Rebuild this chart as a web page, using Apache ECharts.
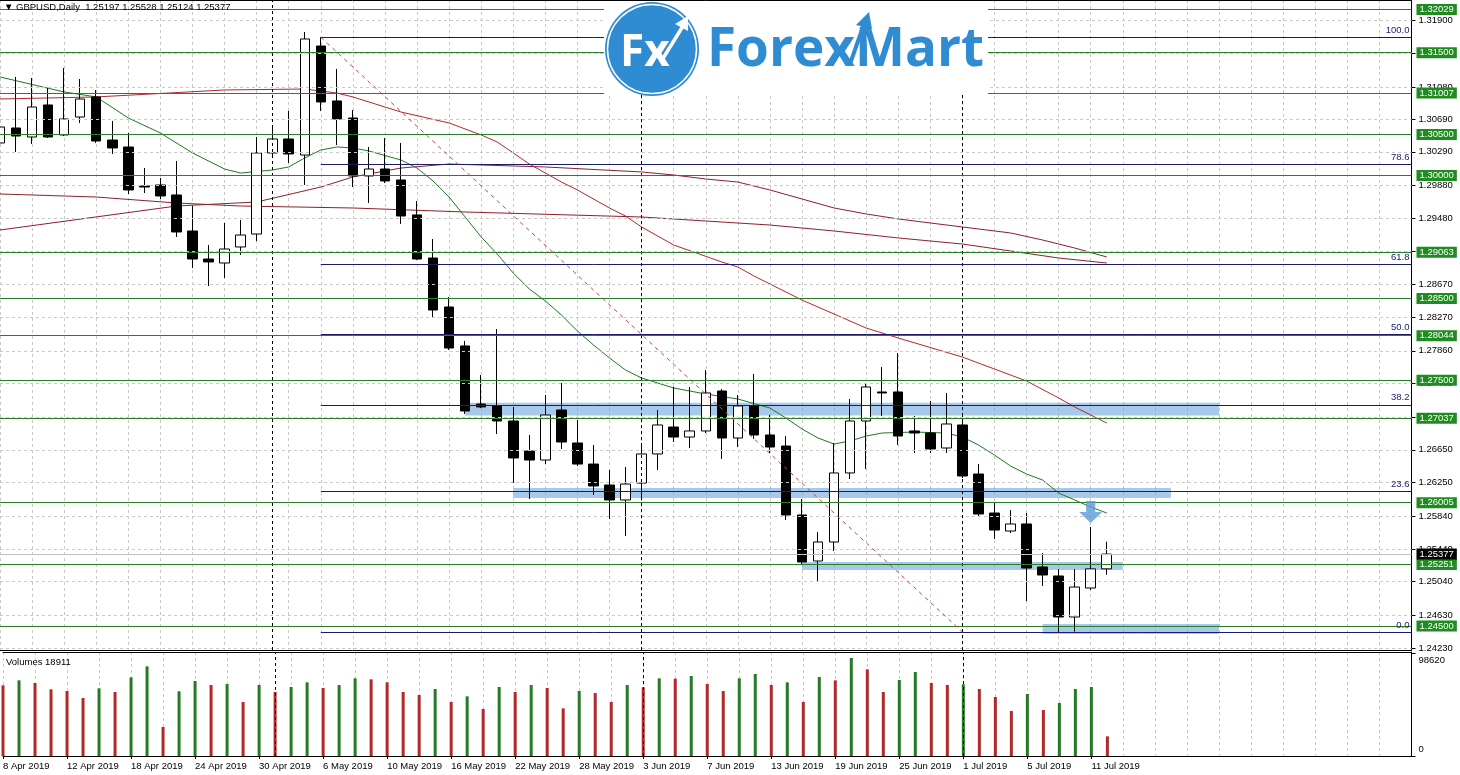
<!DOCTYPE html>
<html>
<head>
<meta charset="utf-8">
<script src="https://cdn.jsdelivr.net/npm/echarts@6/dist/echarts.min.js"></script>
<style>
  html, body { margin: 0; padding: 0; background: #fff; }
  #chart { width: 1460px; height: 775px; }
</style>
</head>
<body>
<div id="chart"></div>
<script>
// daily bars, 8 Apr - 12 Jul 2019, then empty slots to the right edge
const dates = [
  '8 Apr 2019', '9 Apr 2019', '10 Apr 2019', '11 Apr 2019', '12 Apr 2019', '15 Apr 2019', '16 Apr 2019', '17 Apr 2019',
  '18 Apr 2019', '19 Apr 2019', '22 Apr 2019', '23 Apr 2019', '24 Apr 2019', '25 Apr 2019', '26 Apr 2019', '29 Apr 2019',
  '30 Apr 2019', '1 May 2019', '2 May 2019', '3 May 2019', '6 May 2019', '7 May 2019', '8 May 2019', '9 May 2019',
  '10 May 2019', '13 May 2019', '14 May 2019', '15 May 2019', '16 May 2019', '17 May 2019', '20 May 2019', '21 May 2019',
  '22 May 2019', '23 May 2019', '24 May 2019', '27 May 2019', '28 May 2019', '29 May 2019', '30 May 2019', '31 May 2019',
  '3 Jun 2019', '4 Jun 2019', '5 Jun 2019', '6 Jun 2019', '7 Jun 2019', '10 Jun 2019', '11 Jun 2019', '12 Jun 2019',
  '13 Jun 2019', '14 Jun 2019', '17 Jun 2019', '18 Jun 2019', '19 Jun 2019', '20 Jun 2019', '21 Jun 2019', '24 Jun 2019',
  '25 Jun 2019', '26 Jun 2019', '27 Jun 2019', '28 Jun 2019', '1 Jul 2019', '2 Jul 2019', '3 Jul 2019', '4 Jul 2019',
  '5 Jul 2019', '8 Jul 2019', '9 Jul 2019', '10 Jul 2019', '11 Jul 2019', '12 Jul 2019',
  '15 Jul 2019', '16 Jul 2019', '17 Jul 2019', '18 Jul 2019', '19 Jul 2019', '22 Jul 2019', '23 Jul 2019', '24 Jul 2019',
  '25 Jul 2019', '26 Jul 2019', '29 Jul 2019', '30 Jul 2019', '31 Jul 2019', '1 Aug 2019', '2 Aug 2019', '5 Aug 2019',
  '6 Aug 2019', '7 Aug 2019', '8 Aug 2019'
];

const open = [
  1.30398, 1.30581, 1.30471, 1.30862, 1.30496, 1.30715, 1.30960, 1.30434, 1.30349, 1.29873,
  1.29885, 1.29763, 1.29323, 1.28981, 1.28932, 1.29128, 1.29286, 1.30276, 1.30447, 1.30251,
  1.31582, 1.30911, 1.30703, 1.29995, 1.30080, 1.29946, 1.29519, 1.28993, 1.28395, 1.27919,
  1.27210, 1.27186, 1.27003, 1.26636, 1.26526, 1.27137, 1.26734, 1.26477, 1.26221, 1.26038,
  1.26245, 1.26600, 1.26929, 1.26807, 1.26881, 1.27369, 1.26795, 1.27186, 1.26832, 1.26697,
  1.25855, 1.25293, 1.25525, 1.26368, 1.27003, 1.27357, 1.27357, 1.26881, 1.26856, 1.26673,
  1.26954, 1.26355, 1.25879, 1.25659, 1.25745, 1.25220, 1.25110, 1.24609, 1.24963, 1.25197
];
const high = [
  1.30728, 1.31204, 1.31192, 1.31070, 1.31314, 1.31179, 1.31045, 1.30667, 1.30520, 1.30092,
  1.29970, 1.30178, 1.29628, 1.29152, 1.29421, 1.29457, 1.30471, 1.30581, 1.30789, 1.31753,
  1.31690, 1.31302, 1.30801, 1.30349, 1.30459, 1.30398, 1.29689, 1.29225, 1.28517, 1.27980,
  1.27564, 1.28126, 1.27174, 1.26832, 1.27320, 1.27467, 1.27015, 1.26710, 1.26404, 1.26441,
  1.26722, 1.27137, 1.27418, 1.27418, 1.27625, 1.27393, 1.27320, 1.27577, 1.27076, 1.26819,
  1.26050, 1.25647, 1.26734, 1.27271, 1.27467, 1.27662, 1.27833, 1.27064, 1.27247, 1.27345,
  1.27064, 1.26477, 1.26001, 1.25916, 1.25879, 1.25391, 1.25195, 1.25195, 1.25708, 1.25528
];
const low = [
  1.30227, 1.30288, 1.30386, 1.30459, 1.30483, 1.30642, 1.30398, 1.30264, 1.29775, 1.29787,
  1.29714, 1.29250, 1.28871, 1.28651, 1.28749, 1.29030, 1.29201, 1.30215, 1.30154, 1.29885,
  1.30789, 1.30373, 1.29860, 1.29665, 1.29909, 1.29409, 1.28969, 1.28261, 1.27870, 1.27088,
  1.27161, 1.26844, 1.26245, 1.26050, 1.26477, 1.26661, 1.26453, 1.26099, 1.25806, 1.25598,
  1.26074, 1.26404, 1.26746, 1.26673, 1.26856, 1.26539, 1.26685, 1.26783, 1.26612, 1.25794,
  1.25244, 1.25049, 1.25415, 1.26294, 1.26416, 1.27064, 1.26710, 1.26612, 1.26612, 1.26612,
  1.26306, 1.25830, 1.25562, 1.25635, 1.24804, 1.24987, 1.24413, 1.24430, 1.24939, 1.25124
];
const close = [
  1.30593, 1.30483, 1.30837, 1.30471, 1.30691, 1.30935, 1.30422, 1.30337, 1.29824, 1.29860,
  1.29751, 1.29311, 1.28981, 1.28945, 1.29103, 1.29274, 1.30276, 1.30447, 1.30264, 1.31668,
  1.30899, 1.30691, 1.29995, 1.30080, 1.29934, 1.29506, 1.28981, 1.28358, 1.27894, 1.27125,
  1.27174, 1.27003, 1.26551, 1.26526, 1.27076, 1.26746, 1.26477, 1.26209, 1.26038, 1.26233,
  1.26600, 1.26954, 1.26807, 1.26881, 1.27345, 1.26795, 1.27186, 1.26832, 1.26685, 1.25855,
  1.25281, 1.25525, 1.26368, 1.27003, 1.27418, 1.27345, 1.26819, 1.26856, 1.26661, 1.26966,
  1.26331, 1.25867, 1.25671, 1.25745, 1.25207, 1.25122, 1.24609, 1.24975, 1.25197, 1.25377
];
const volumes = [
  67950, 72750, 70190, 64100, 62500, 55770, 65060, 61540, 75640, 86210,
  27880, 62180, 72110, 68270, 69230, 51920, 68270, 61540, 66340, 70830,
  65380, 68270, 74680, 73720, 70830, 61540, 58650, 64420, 51920, 57370,
  45190, 66340, 61540, 68270, 65380, 45830, 62500, 60570, 51920, 68270,
  66020, 74680, 74360, 76920, 69230, 62500, 74680, 78840, 68270, 70830,
  51920, 75960, 72750, 94230, 83330, 61540, 73070, 80770, 70190, 68270,
  68910, 64420, 56730, 43270, 59610, 44230, 50960, 64420, 66340, 18911
];

// moving averages as [bar, price]
const maFast = [
  [0, 1.31204], [4, 1.31021], [6, 1.30960], [8, 1.30703], [10, 1.30520], [12, 1.30276], [14, 1.30080],
  [15, 1.30031], [17, 1.30068], [18, 1.30105], [19, 1.30215], [20, 1.30312], [21, 1.30349], [22, 1.30337],
  [23, 1.30300], [25, 1.30190], [26, 1.30092], [27, 1.29934], [28, 1.29738], [29, 1.29494], [30, 1.29250],
  [31, 1.29042], [32, 1.28810], [33, 1.28615], [34, 1.28468], [35, 1.28297], [36, 1.28102], [37, 1.27931],
  [38, 1.27772], [39, 1.27625], [40, 1.27528], [42, 1.27406], [44, 1.27332], [46, 1.27271], [48, 1.27161],
  [49, 1.27039], [50, 1.26905], [51, 1.26795], [52, 1.26722], [53, 1.26758], [54, 1.26819], [55, 1.26856],
  [57, 1.26868], [59, 1.26856], [60, 1.26807], [61, 1.26710], [62, 1.26587], [63, 1.26453], [64, 1.26355],
  [65, 1.26282], [66, 1.26123], [67, 1.26038], [68, 1.25952], [69, 1.25879]
];
const maMid = [
  [0, 1.30935], [6, 1.30960], [14, 1.31045], [19, 1.31057], [21, 1.31008], [22, 1.30960], [25, 1.30776],
  [28, 1.30642], [30, 1.30496], [31, 1.30410], [32, 1.30276], [33, 1.30141], [35, 1.29921], [36, 1.29824],
  [38, 1.29604], [39, 1.29506], [40, 1.29372], [42, 1.29152], [45, 1.28945], [46, 1.28883], [47, 1.28774],
  [50, 1.28480], [54, 1.28138], [56, 1.28016], [60, 1.27784], [64, 1.27491], [66, 1.27284], [67, 1.27174],
  [69, 1.26978]
];
const maSlowA = [
  [0, 1.29335], [11, 1.29628], [16, 1.29677], [20, 1.29860], [22, 1.29983], [25, 1.30092], [28, 1.30141],
  [34, 1.30105], [40, 1.30044], [42, 1.30007], [44, 1.29958], [46, 1.29921], [48, 1.29824], [50, 1.29714],
  [52, 1.29604], [54, 1.29531], [56, 1.29470], [58, 1.29421], [60, 1.29372], [63, 1.29299], [65, 1.29213],
  [67, 1.29115], [69, 1.29006]
];
const maSlowB = [
  [0, 1.29775], [6, 1.29738], [11, 1.29665], [15, 1.29628], [22, 1.29604], [29, 1.29555], [40, 1.29494],
  [44, 1.29445], [48, 1.29396], [52, 1.29323], [56, 1.29238], [60, 1.29164], [63, 1.29079], [66, 1.28993],
  [69, 1.28932]
];

const levels = [1.32029, 1.31500, 1.31007, 1.30500, 1.30000, 1.29063, 1.28500, 1.28044, 1.27500, 1.27037, 1.26005, 1.25251, 1.24500];
const fibLabels = ['100.0', '78.6', '61.8', '50.0', '38.2', '23.6', '0.0'];
const fibPrices = [1.31690, 1.30136, 1.28915, 1.28058, 1.27201, 1.26140, 1.24426];
const fibFrom = 20;
const fibTo = 60;
const monthStarts = [17, 40, 60];
// highlighted zones: [first bar, last bar, top price, bottom price]
const zones = [
  [29, 76, 1.27225, 1.27070],
  [32, 73, 1.26184, 1.26062],
  [50, 70, 1.25281, 1.25183],
  [65, 76, 1.24523, 1.24401]
];
const signalDown = [68, 1.25891];
const priceTicks = [1.31900, 1.31490, 1.31080, 1.30690, 1.30290, 1.29880, 1.29480, 1.29070, 1.28670, 1.28270,
  1.27860, 1.27460, 1.27050, 1.26650, 1.26250, 1.25840, 1.25440, 1.25040, 1.24630, 1.24230];
const volumeTicks = [0, 98620];

const FONT = "'Liberation Sans', Arial, sans-serif";
const last = close.length - 1;
const lastPrice = close[last];
const chart = echarts.init(document.getElementById('chart'));

const txt = { fontFamily: FONT, fontSize: 9.5, color: '#000' };
const evenBar = (i) => i % 2 === 0;
const labelBar = (i) => i % 4 === 0 && i <= last;
const noSym = ['none', 'none'];
const gridDash = { color: '#c9c9c9', type: [3, 3], width: 1 };

const candles = open.map((o, i) => [o, close[i], low[i], high[i]]);
const volData = volumes.map((v, i) => ({
  value: v,
  itemStyle: { color: i > 0 && v > volumes[i - 1] ? '#267a26' : '#b02a2a' }
}));

const header = '\u25BC GBPUSD,Daily  ' + [open[last], high[last], low[last], close[last]].map(v => v.toFixed(5)).join(' ');

const option = {
  animation: false,
  backgroundColor: '#fff',
  title: [
    { text: header, left: 4, top: 2, padding: 0, textStyle: Object.assign({ fontWeight: 'normal' }, txt) },
    { text: 'Volumes ' + volumes[last], left: 6, top: 657, padding: 0, textStyle: Object.assign({ fontWeight: 'normal' }, txt) }
  ],
  grid: [
    { left: 0, right: 48.5, top: 0, height: 650 },
    { left: 0, right: 48.5, top: 652, height: 104 }
  ],
  xAxis: [
    {
      type: 'category', gridIndex: 0, data: dates, boundaryGap: false,
      axisLine: { lineStyle: { color: '#000', width: 1 } },
      axisTick: { show: false }, axisLabel: { show: false },
      splitLine: { show: true, interval: evenBar, lineStyle: gridDash }
    },
    {
      type: 'category', gridIndex: 0, data: dates, boundaryGap: false, position: 'top',
      axisLine: { lineStyle: { color: '#000', width: 1 } },
      axisTick: { show: false }, axisLabel: { show: false }, splitLine: { show: false }
    },
    {
      type: 'category', gridIndex: 1, data: dates, boundaryGap: false,
      axisLine: { lineStyle: { color: '#000', width: 1 } },
      axisTick: { show: true, interval: labelBar, length: 3, lineStyle: { color: '#000' } },
      axisLabel: Object.assign({ interval: labelBar, align: 'left', margin: 5 }, txt),
      splitLine: { show: true, interval: evenBar, lineStyle: gridDash }
    },
    {
      type: 'category', gridIndex: 1, data: dates, boundaryGap: false, position: 'top',
      axisLine: { lineStyle: { color: '#000', width: 1 } },
      axisTick: { show: false }, axisLabel: { show: false }, splitLine: { show: false }
    }
  ],
  yAxis: [
    {
      type: 'value', gridIndex: 0, position: 'right', min: 1.24206, max: 1.32144,
      axisLine: { show: true, lineStyle: { color: '#000' } },
      axisTick: { show: true, length: 4, customValues: priceTicks, lineStyle: { color: '#000' } },
      axisLabel: Object.assign({ customValues: priceTicks, margin: 7, formatter: v => v.toFixed(5) }, txt),
      splitLine: { show: false }
    },
    {
      type: 'value', gridIndex: 1, position: 'right', min: 0, max: 100000,
      axisLine: { show: true, lineStyle: { color: '#000' } },
      axisTick: { show: true, length: 4, customValues: volumeTicks, lineStyle: { color: '#000' } },
      axisLabel: Object.assign({
        customValues: volumeTicks, margin: 7,
        // keep the two labels inside the pane, like the terminal does
        formatter: v => (v === 0 ? '{lo|0}' : '{hi|' + v + '}'),
        rich: {
          lo: { fontFamily: FONT, fontSize: 9.5, color: '#000', padding: [0, 0, 14, 0] },
          hi: { fontFamily: FONT, fontSize: 9.5, color: '#000', padding: [14, 0, 0, 0] }
        }
      }, txt),
      splitLine: { show: false }
    }
  ],
  graphic: [
    { type: 'rect', z: 100, shape: { x: 604, y: 1, width: 384, height: 94 }, style: { fill: '#fff' } },
    { type: 'circle', z: 101, shape: { cx: 652, cy: 49, r: 47 }, style: { fill: '#2f8bd2' } },
    { type: 'circle', z: 102, shape: { cx: 652, cy: 49, r: 44.5 }, style: { fill: 'none', stroke: '#fff', lineWidth: 1.5 } },
    { type: 'text', z: 103, style: { text: 'Fx', x: 620, y: 53, verticalAlign: 'middle', fill: '#fff', font: 'bold 44px "Open Sans", sans-serif' } },
    { type: 'line', z: 103, shape: { x1: 662, y1: 60, x2: 683, y2: 26 }, style: { stroke: '#fff', lineWidth: 3.5 } },
    { type: 'polygon', z: 103, shape: { points: [[688, 16], [675, 24], [688, 31]] }, style: { fill: '#fff' } },
    { type: 'text', z: 103, style: { text: 'ForexMart', x: 707, y: 51, verticalAlign: 'middle', fill: '#2f8bd2', font: 'bold 53px "Open Sans", sans-serif' } },
    { type: 'line', z: 104, shape: { x1: 850, y1: 64, x2: 864, y2: 24 }, style: { stroke: '#2f8bd2', lineWidth: 4 } },
    { type: 'polygon', z: 104, shape: { points: [[869, 12], [856, 25], [872, 29]] }, style: { fill: '#2f8bd2' } }
  ],
  series: [
    {
      // dashed price grid and month separators
      type: 'line', xAxisIndex: 0, yAxisIndex: 0, data: [], silent: true, z: 1,
      markLine: {
        silent: true, symbol: noSym, precision: 5, label: { show: false },
        lineStyle: gridDash,
        data: priceTicks.map(v => ({ yAxis: v })).concat(
          monthStarts.map(i => ({ xAxis: i, lineStyle: { color: '#000', type: [3, 3], width: 1 } })))
      }
    },
    {
      // marked zones
      type: 'line', xAxisIndex: 0, yAxisIndex: 0, data: [], silent: true, z: 1,
      markArea: {
        silent: true,
        itemStyle: { color: 'rgba(110,165,220,0.6)' },
        data: zones.map(z => [{ coord: [z[0], z[2]] }, { coord: [z[1], z[3]] }])
      }
    },
    {
      // support / resistance levels with tags
      type: 'line', xAxisIndex: 0, yAxisIndex: 0, data: [], silent: true, z: 2,
      markLine: {
        silent: true, symbol: noSym, precision: 5,
        lineStyle: { color: '#2a7d2a', type: 'solid', width: 1 },
        label: {
          show: true, position: 'end', distance: 5, formatter: p => Number(p.value).toFixed(5),
          backgroundColor: '#1f8c1f', color: '#fff', padding: [1, 3, 0, 3],
          fontFamily: FONT, fontSize: 9.5
        },
        data: levels.map(v => ({ yAxis: v })).concat([{
          yAxis: lastPrice,
          lineStyle: { color: '#c0c0c0' },
          label: { backgroundColor: '#000', color: '#fff' }
        }])
      }
    },
    {
      // fibonacci retracement
      type: 'line', xAxisIndex: 0, yAxisIndex: 0, data: [], silent: true, z: 2,
      markLine: {
        silent: true, symbol: noSym, precision: 5,
        lineStyle: { color: '#1b1b6b', type: 'solid', width: 1 },
        label: {
          show: true, position: 'insideEndTop', distance: 2,
          formatter: p => (p.dataIndex < fibLabels.length ? fibLabels[p.dataIndex] : ''),
          color: '#1b1b6b', fontFamily: FONT, fontSize: 9.5
        },
        data: fibPrices.map(p => [{ coord: [fibFrom, p] }, { coord: [dates.length - 1, p] }]).concat([[
          { coord: [fibFrom, fibPrices[0]], lineStyle: { color: '#c04848', type: [4, 4] } },
          { coord: [fibTo, fibPrices[fibPrices.length - 1]] }
        ]])
      }
    },
    {
      name: 'MA slow A', type: 'line', xAxisIndex: 0, yAxisIndex: 0, data: maSlowA, z: 3,
      showSymbol: false, silent: true, lineStyle: { color: '#8e1f2a', width: 1 }
    },
    {
      name: 'MA slow B', type: 'line', xAxisIndex: 0, yAxisIndex: 0, data: maSlowB, z: 3,
      showSymbol: false, silent: true, lineStyle: { color: '#8e1f2a', width: 1 }
    },
    {
      name: 'MA mid', type: 'line', xAxisIndex: 0, yAxisIndex: 0, data: maMid, z: 3,
      showSymbol: false, silent: true, lineStyle: { color: '#b3282c', width: 1 }
    },
    {
      name: 'MA fast', type: 'line', xAxisIndex: 0, yAxisIndex: 0, data: maFast, z: 3,
      showSymbol: false, silent: true, lineStyle: { color: '#1f7a1f', width: 1 }
    },
    {
      name: 'GBPUSD', type: 'candlestick', xAxisIndex: 0, yAxisIndex: 0, data: candles, z: 4,
      barWidth: 10,
      itemStyle: { color: '#fff', color0: '#000', borderColor: '#000', borderColor0: '#000', borderWidth: 1 }
    },
    {
      type: 'scatter', xAxisIndex: 0, yAxisIndex: 0, data: [signalDown], z: 5, silent: true,
      symbol: 'path://M3,0 L7,0 L7,5 L10,5 L5,10 L0,5 L3,5 Z', symbolSize: [23, 22],
      itemStyle: { color: '#5b9ad6' }
    },
    {
      name: 'Volumes', type: 'bar', xAxisIndex: 2, yAxisIndex: 1, data: volData, barWidth: 3, z: 3,
      markLine: {
        silent: true, symbol: noSym, label: { show: false },
        lineStyle: { color: '#000', type: [3, 3], width: 1 },
        data: monthStarts.map(i => ({ xAxis: i }))
      }
    }
  ]
};

chart.setOption(option);
</script>
</body>
</html>
